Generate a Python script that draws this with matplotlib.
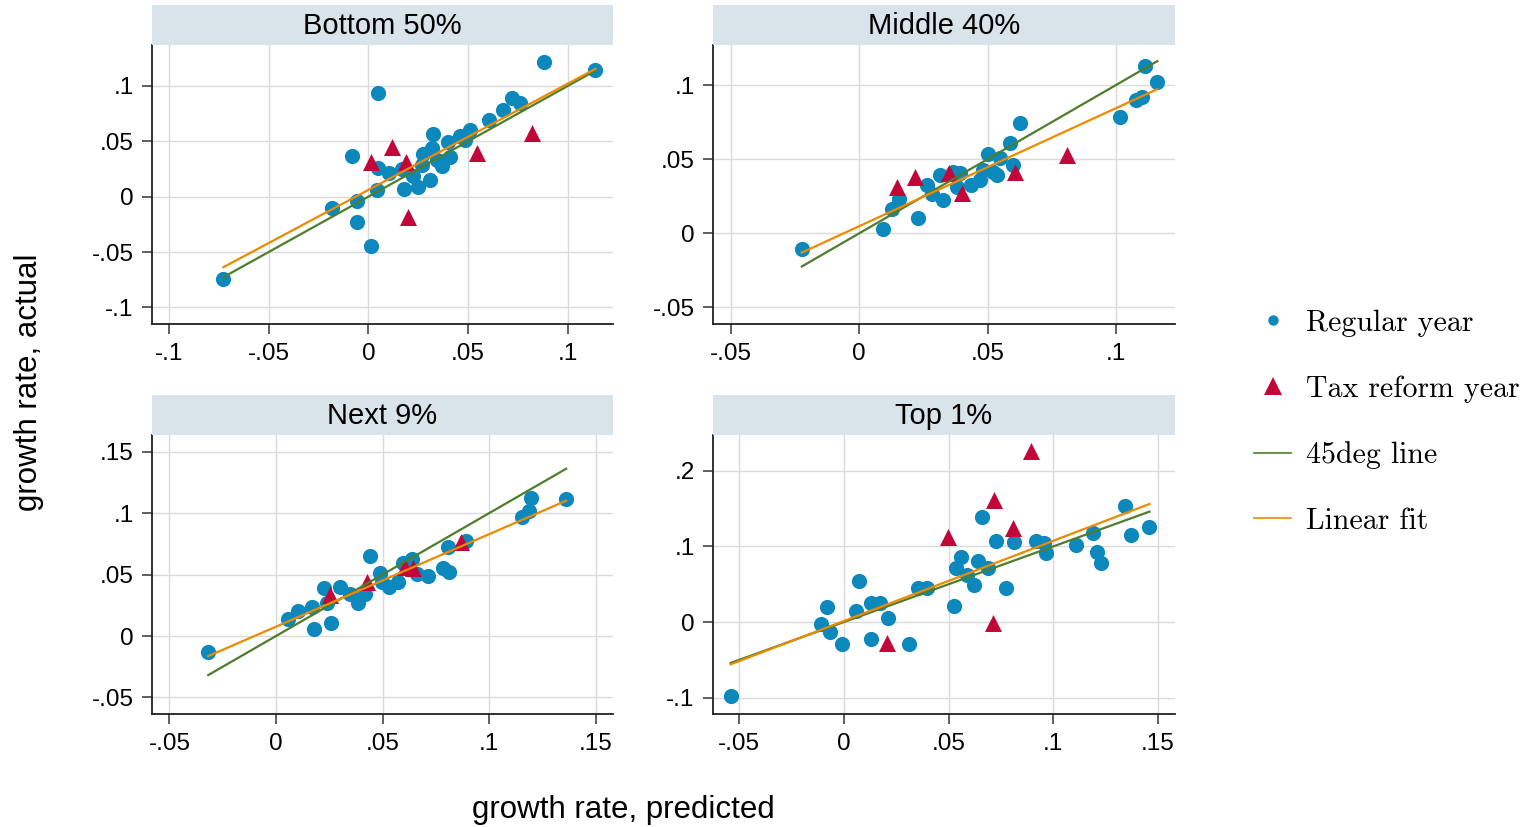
import matplotlib
matplotlib.use("Agg")
import matplotlib.pyplot as plt
from matplotlib.lines import Line2D
import numpy as np

plt.rcParams['font.family'] = ['Liberation Sans', 'DejaVu Sans']

blue = '#0d88bd'
red = '#c2063a'
green = '#4f7d2b'
orange = '#ec8a00'
strip_color = '#d9e4ea'

# ---- data ----
panel_titles = ['Bottom 50%', 'Middle 40%', 'Next 9%', 'Top 1%']

# Bottom 50%
p1_reg_x = [-0.0727, -0.0184, -0.0084, -0.0055, -0.0055, 0.0013, 0.0047, 0.0047, 0.0042, 0.0105,
            0.0179, 0.0167, 0.0226, 0.0250, 0.0276, 0.0317, 0.0326, 0.0309, 0.0267, 0.0342,
            0.0367, 0.0409, 0.0401, 0.0459, 0.0484, 0.0510, 0.0605, 0.0673, 0.0718, 0.0760,
            0.0880, 0.1139]
p1_reg_y = [-0.0744, -0.0105, 0.0370, -0.0039, -0.0226, -0.0443, 0.0934, 0.0262, 0.0060, 0.0211,
            0.0069, 0.0250, 0.0187, 0.0090, 0.0390, 0.0437, 0.0563, 0.0150, 0.0286, 0.0331,
            0.0277, 0.0355, 0.0497, 0.0551, 0.0512, 0.0602, 0.0693, 0.0783, 0.0889, 0.0849,
            0.1220, 0.1145]
p1_tax_x = [0.0012, 0.0120, 0.0189, 0.0197, 0.0546, 0.0819]
p1_tax_y = [0.0316, 0.0452, 0.0316, -0.0187, 0.0398, 0.0572]

# Middle 40%
p2_reg_x = [-0.0224, 0.0091, 0.0126, 0.0156, 0.0230, 0.0262, 0.0282, 0.0314, 0.0327, 0.0366,
            0.0394, 0.0379, 0.0437, 0.0470, 0.0483, 0.0500, 0.0522, 0.0535, 0.0548, 0.0587,
            0.0600, 0.0625, 0.1015, 0.1077, 0.1103, 0.1112, 0.1161]
p2_reg_y = [-0.0103, 0.0031, 0.0162, 0.0234, 0.0106, 0.0326, 0.0265, 0.0394, 0.0225, 0.0416,
            0.0405, 0.0315, 0.0326, 0.0360, 0.0427, 0.0535, 0.0416, 0.0394, 0.0506, 0.0607,
            0.0461, 0.0747, 0.0783, 0.0900, 0.0922, 0.1129, 0.1023]
p2_tax_x = [0.0145, 0.0217, 0.0350, 0.0402, 0.0606, 0.0810]
p2_tax_y = [0.0315, 0.0382, 0.0409, 0.0270, 0.0416, 0.0528]

# Next 9%
p3_reg_x = [-0.0318, 0.0055, 0.0105, 0.0167, 0.0178, 0.0225, 0.0238, 0.0258, 0.0300, 0.0347,
            0.0387, 0.0418, 0.0441, 0.0488, 0.0496, 0.0531, 0.0574, 0.0598, 0.0637, 0.0660,
            0.0715, 0.0786, 0.0812, 0.0806, 0.0892, 0.1153, 0.1188, 0.1197, 0.1362]
p3_reg_y = [-0.0128, 0.0138, 0.0206, 0.0239, 0.0057, 0.0388, 0.0266, 0.0103, 0.0396, 0.0342,
            0.0271, 0.0342, 0.0651, 0.0510, 0.0442, 0.0396, 0.0442, 0.0592, 0.0624, 0.0505,
            0.0491, 0.0551, 0.0524, 0.0722, 0.0773, 0.0966, 0.1020, 0.1121, 0.1115]
p3_tax_x = [0.0254, 0.0426, 0.0606, 0.0645, 0.0867]
p3_tax_y = [0.0334, 0.0442, 0.0564, 0.0551, 0.0768]

# Top 1%
p4_reg_x = [-0.0542, -0.0110, -0.0083, -0.0067, -0.0011, 0.0056, 0.0073, 0.0129, 0.0129, 0.0172,
            0.0212, 0.0312, 0.0352, 0.0398, 0.0527, 0.0534, 0.0558, 0.0586, 0.0622, 0.0639,
            0.0661, 0.0690, 0.0725, 0.0776, 0.0813, 0.0918, 0.0958, 0.0966, 0.1108, 0.1192,
            0.1208, 0.1227, 0.1343, 0.1372, 0.1460]
p4_reg_y = [-0.0979, -0.0026, 0.0194, -0.0128, -0.0296, 0.0146, 0.0547, 0.0256, -0.0225, 0.0256,
            0.0057, -0.0296, 0.0446, 0.0446, 0.0216, 0.0719, 0.0856, 0.0622, 0.0490, 0.0807,
            0.1385, 0.0710, 0.1076, 0.0454, 0.1063, 0.1072, 0.1050, 0.0918, 0.1019, 0.1173,
            0.0931, 0.0785, 0.1540, 0.1151, 0.1262]
p4_tax_x = [0.0204, 0.0496, 0.0711, 0.0717, 0.0810, 0.0892]
p4_tax_y = [-0.0282, 0.1129, -0.0009, 0.1614, 0.1248, 0.2267]

# linear fit (intercept, slope) as drawn
fit_intercept = [0.0061, 0.0048, 0.0076, 0.0014]
fit_slope = [0.960, 0.796, 0.753, 1.060]

# axis ticks
xticks = [[-0.1, -0.05, 0, 0.05, 0.1], [-0.05, 0, 0.05, 0.1],
          [-0.05, 0, 0.05, 0.1, 0.15], [-0.05, 0, 0.05, 0.1, 0.15]]
xticklabels = [['-.1', '-.05', '0', '.05', '.1'], ['-.05', '0', '.05', '.1'],
               ['-.05', '0', '.05', '.1', '.15'], ['-.05', '0', '.05', '.1', '.15']]
yticks = [[-0.1, -0.05, 0, 0.05, 0.1], [-0.05, 0, 0.05, 0.1],
          [-0.05, 0, 0.05, 0.1, 0.15], [-0.1, 0, 0.1, 0.2]]
yticklabels = [['-.1', '-.05', '0', '.05', '.1'], ['-.05', '0', '.05', '.1'],
               ['-.05', '0', '.05', '.1', '.15'], ['-.1', '0', '.1', '.2']]
xlims = [(-0.1085, 0.1227), (-0.057, 0.123), (-0.0582, 0.1582), (-0.0626, 0.1582)]
ylims = [(-0.115, 0.137), (-0.0612, 0.127), (-0.0635, 0.1637), (-0.1217, 0.2474)]

reg_x = [p1_reg_x, p2_reg_x, p3_reg_x, p4_reg_x]
reg_y = [p1_reg_y, p2_reg_y, p3_reg_y, p4_reg_y]
tax_x = [p1_tax_x, p2_tax_x, p3_tax_x, p4_tax_x]
tax_y = [p1_tax_y, p2_tax_y, p3_tax_y, p4_tax_y]

W, H = 1530, 827
fig = plt.figure(figsize=(W / 100, H / 100), dpi=100)

# pixel boxes: left, right, top, bottom
boxes = [(152, 613, 45, 324), (713, 1175, 45, 324),
         (152, 613, 435, 714), (713, 1175, 435, 714)]
strip_h = 40

for i in range(4):
    l, r, t, b = boxes[i]
    ax = fig.add_axes([l / W, 1 - b / H, (r - l) / W, (b - t) / H])
    ax.set_xlim(*xlims[i])
    ax.set_ylim(*ylims[i])
    ax.set_xticks(xticks[i])
    ax.set_xticklabels(xticklabels[i])
    ax.set_yticks(yticks[i])
    ax.set_yticklabels(yticklabels[i])
    ax.tick_params(labelsize=17.5, length=7.2, width=1.1, color='#333333')
    ax.tick_params(axis='x', pad=6.5)
    ax.tick_params(axis='y', pad=6)
    ax.grid(True, color='#dadada', linewidth=1.0)
    ax.set_axisbelow(True)
    for s in ['top', 'right']:
        ax.spines[s].set_visible(False)
    for s in ['left', 'bottom']:
        ax.spines[s].set_linewidth(1.3)
        ax.spines[s].set_color('#222222')

    ax.scatter(reg_x[i], reg_y[i], s=120, color=blue, marker='o', linewidths=0, zorder=3)
    ax.scatter(tax_x[i], tax_y[i], s=150, color=red, marker='^', linewidths=0, zorder=4)

    all_x = np.array(reg_x[i] + tax_x[i])
    xs = np.array([all_x.min(), all_x.max()])
    ax.plot(xs, xs, color=green, linewidth=1.6, zorder=5)
    ax.plot(xs, fit_intercept[i] + fit_slope[i] * xs, color=orange, linewidth=1.6, zorder=5)

    # title strip
    sax = fig.add_axes([l / W, 1 - t / H, (r - l) / W, strip_h / H])
    sax.set_facecolor(strip_color)
    sax.set_xticks([])
    sax.set_yticks([])
    for s in sax.spines.values():
        s.set_visible(False)
    sax.text(0.5, 0.47, panel_titles[i], ha='center', va='center', fontsize=21,
             transform=sax.transAxes)

fig.text(29 / W, 1 - 382 / H, 'growth rate, actual', rotation=90, ha='center', va='center',
         fontsize=22.5)
fig.text(623 / W, 1 - 810 / H, 'growth rate, predicted', ha='center', va='center',
         fontsize=22.5)

handles = [Line2D([], [], linestyle='none', marker='o', markersize=7.5, color=blue, markeredgewidth=0),
           Line2D([], [], linestyle='none', marker='^', markersize=13, color=red, markeredgewidth=0),
           Line2D([], [], color=green, linewidth=1.2),
           Line2D([], [], color=orange, linewidth=1.2)]
labels = ['Regular year', 'Tax reform year', '45deg line', 'Linear fit']
fig.legend(handles, labels, loc='center left', bbox_to_anchor=(1254 / W, 1 - 422 / H),
           frameon=False, prop={'family': 'cmr10', 'size': 21.5}, labelspacing=1.29,
           handlelength=1.25, handletextpad=0.5, borderaxespad=0, borderpad=0)

fig.savefig('out.png', dpi=100)
